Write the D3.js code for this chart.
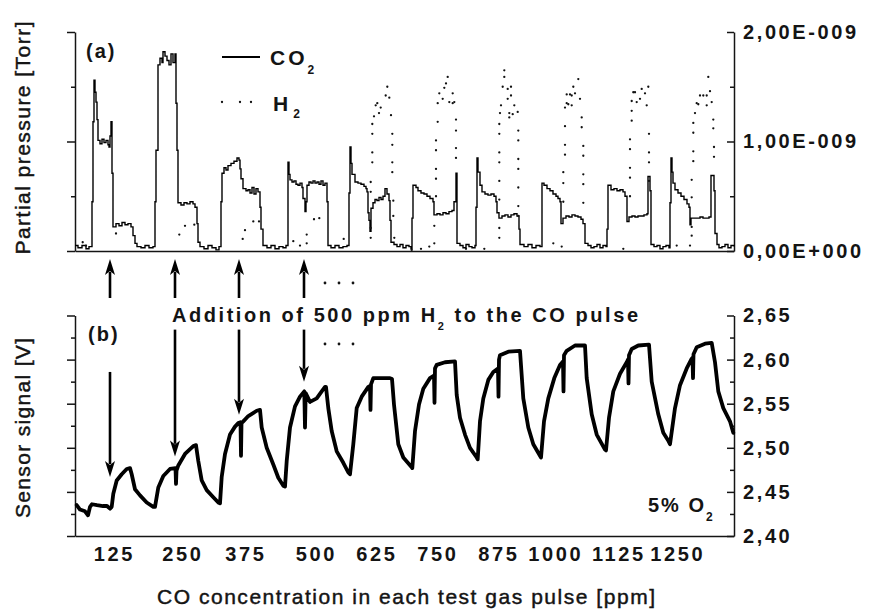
<!DOCTYPE html>
<html>
<head>
<meta charset="utf-8">
<script src="https://cdn.jsdelivr.net/npm/d3@7"></script>
<style>
  body { margin: 0; background: #fff; }
  svg text { font-family: "Liberation Sans", Arial, sans-serif; fill: #141414; }
</style>
</head>
<body>
<svg id="chart" width="878" height="610"></svg>
<script>
// ---- time axis (minutes into the run) and pulse labels ----
const timeDomain = [0, 659];
const pulseCenters = [37.5, 106, 169, 239.5, 300, 361, 422, 479, 542, 601];
const pulseLabels = ["125", "250", "375", "500", "625", "750", "875", "1000", "1125", "1250"];

// ---- (a) partial pressures, in units of 1E-9 Torr ----
const pressureTicks = [0, 1, 2];
const pressureMinorTicks = [0.5, 1.5];
const pressureLabels = ["0,00E+000", "1,00E-009", "2,00E-009"];

const co2Series = [
  [0,0.05],[3,0.03],[7,0.05],[11,0.02],[14,0.04],
  [17,0.45],[18,1.18],[19,1.56],[20,1.45],[21,1.36],[22,1.20],[23,1.01],[25,0.98],[27,1.02],[29,0.99],[31,1.01],[33,0.97],[34,0.95],[35,1.05],[36,1.18],[37,0.71],[38,0.22],[41,0.25],[44,0.23],[47,0.26],[50,0.24],[53,0.25],[56,0.22],[58,0.14],[60,0.07],[62,0.04],[66,0.03],[70,0.05],[74,0.03],[78,0.04],
  [80,0.45],[81,0.92],[83,1.70],[85,1.76],[87,1.72],[88,1.82],[90,1.78],[92,1.74],[94,1.70],[96,1.80],[98,1.72],[100,1.80],[101,1.35],[102,0.92],[103,0.44],[106,0.42],[109,0.44],[112,0.43],[115,0.45],[118,0.43],[120,0.40],[122,0.25],[123,0.08],[125,0.04],[129,0.02],[133,0.05],[137,0.03],[141,0.01],[144,0.04],
  [146,0.45],[147,0.71],[149,0.76],[151,0.74],[153,0.78],[156,0.80],[159,0.82],[162,0.85],[164,0.83],[165,0.75],[166,0.66],[168,0.57],[171,0.55],[173,0.56],[175,0.53],[177,0.58],[179,0.52],[181,0.57],[183,0.54],[185,0.40],[186,0.20],[188,0.05],[192,0.03],[196,0.05],[200,0.02],[204,0.04],[208,0.03],[211,0.05],
  [213,0.81],[214,0.70],[215,0.65],[217,0.63],[219,0.64],[221,0.61],[223,0.60],[225,0.62],[227,0.58],[228,0.48],[230,0.36],[231,0.45],[232,0.60],[234,0.63],[236,0.62],[238,0.64],[240,0.62],[242,0.63],[244,0.61],[246,0.64],[248,0.60],[250,0.62],[252,0.45],[253,0.05],[256,0.03],[260,0.05],[264,0.03],[268,0.04],[272,0.05],
  [274,0.53],[275,0.95],[276,0.80],[277,0.70],[280,0.63],[283,0.62],[286,0.61],[289,0.59],[291,0.57],[292,0.54],[293,0.35],[294,0.28],[295,0.18],[296,0.39],[298,0.44],[300,0.47],[302,0.46],[304,0.49],[306,0.47],[308,0.50],[310,0.57],[312,0.52],[314,0.46],[315,0.28],[316,0.08],[319,0.06],[322,0.04],[325,0.06],[328,0.03],[331,0.05],[334,0.04],[336,0.02],
  [337,0.30],[338,0.60],[341,0.58],[343,0.55],[346,0.53],[349,0.52],[352,0.50],[355,0.48],[358,0.45],[359,0.33],[362,0.34],[365,0.33],[368,0.35],[371,0.34],[374,0.36],[377,0.37],[379,0.45],[381,0.71],[382,0.07],[385,0.05],[388,0.03],[391,0.06],[394,0.04],[397,0.03],[400,0.05],
  [401,0.40],[402,0.85],[403,0.72],[405,0.60],[407,0.54],[410,0.52],[413,0.51],[416,0.52],[419,0.50],[421,0.45],[422,0.35],[424,0.30],[427,0.32],[430,0.33],[433,0.31],[436,0.33],[439,0.34],[442,0.32],[444,0.20],[445,0.06],[449,0.04],[453,0.06],[457,0.03],[461,0.05],[465,0.04],
  [467,0.62],[469,0.60],[472,0.57],[475,0.55],[478,0.52],[481,0.50],[483,0.48],[485,0.45],[486,0.25],[488,0.30],[491,0.32],[494,0.31],[497,0.33],[500,0.32],[503,0.31],[506,0.29],[508,0.25],[510,0.07],[513,0.05],[516,0.03],[519,0.04],[522,0.06],[525,0.03],[528,0.05],[531,0.04],
  [532,0.20],[533,0.60],[536,0.56],[539,0.57],[542,0.55],[545,0.56],[548,0.54],[550,0.50],[552,0.27],[554,0.31],[557,0.32],[560,0.31],[563,0.32],[566,0.32],[569,0.33],[572,0.34],[573,0.68],[575,0.55],[576,0.06],[579,0.04],[582,0.05],[585,0.02],[588,0.04],[591,0.05],[594,0.03],
  [595,0.44],[596,0.85],[597,0.72],[598,0.62],[600,0.56],[603,0.53],[606,0.50],[609,0.47],[612,0.43],[614,0.40],[615,0.24],[616,0.30],[619,0.30],[622,0.30],[625,0.31],[628,0.30],[631,0.30],[634,0.31],[636,0.69],[639,0.55],[640,0.16],[642,0.06],[644,0.03],[647,0.04],[650,0.06],[653,0.03],[656,0.05],[659,0.04]
];

const h2Series = [
  [7.7,0.08],[11,0.05],[41,0.16],[104.3,0.15],[110,0.23],[119.3,0.24],[167.7,0.11],[170,0.19],[178.3,0.27],[184,0.27],
  [218.3,0.09],[225,0.05],[231.7,0.15],[231.7,0.07],[239,0.29],[244.3,0.30],[268.7,0.11],
  [295.7,0.12],[295.7,0.21],[295.7,0.54],[295.7,0.63],[297.3,0.81],[297.3,0.90],[297.3,1.07],[297.3,1.16],[299,1.23],[300.7,1.33],[302.3,1.35],[304,1.26],[305.7,1.31],[310.7,1.42],[312.3,1.50],[314.3,1.40],[316,1.24],[317.3,1.07],[317.3,0.97],[317.3,0.81],[317.3,0.72],[318.3,0.46],[318.3,0.32],[319.3,0.12],
  [336.7,0.01],[346,0.02],[354.3,0.04],[359.3,0.07],
  [359.3,0.23],[361,0.50],[361,0.66],[361,0.75],[361,0.92],[361,1.01],[362.7,1.18],[362.7,1.35],[364.3,1.44],[367.7,1.39],[369.3,1.49],[371,1.53],[372.7,1.59],[374.3,1.36],[377.7,1.44],[377.7,1.35],[379.3,1.36],[381,1.20],[381,1.10],[381,0.94],[381,0.85],
  [391,0.02],[409.3,0.02],
  [424.3,0.12],[424.3,0.21],[424.3,0.47],[424.3,0.64],[424.3,0.81],[424.3,0.90],[424.3,1.07],[424.3,1.16],[425,1.26],[426,1.33],[427.7,1.50],[429.3,1.59],[429.3,1.65],[432.7,1.48],[432.7,1.39],[434.3,1.26],[434.3,1.22],[436,1.50],[436,1.42],[437.7,1.25],[439.3,1.33],[442.7,1.27],[443.3,1.10],[443.3,1.01],[443.3,0.84],[443.3,0.75],[443.3,0.58],[443.3,0.41],[443.3,0.32],
  [478.3,0.07],[486.7,0.04],
  [488.3,0.45],[488.3,0.62],[488.3,0.72],[490,0.88],[490,0.97],[490,1.14],[490,1.31],[491.7,1.43],[491.7,1.35],[493.3,1.34],[495,1.43],[496.7,1.42],[496.7,1.33],[498.3,1.50],[500,1.44],[503.3,1.57],[505,1.39],[506.7,1.22],[506.7,1.13],[508.3,0.96],[508.3,0.87],[508.3,0.70],[508.3,0.61],[508.3,0.44],
  [548.3,0.02],
  [555,0.50],[555,0.67],[555,0.76],[555,0.93],[555,1.02],[556.7,1.19],[556.7,1.28],[556.7,1.37],[558.3,1.45],[560,1.45],[561.7,1.36],[565,1.39],[566.7,1.48],[570,1.44],[571.7,1.33],[573.3,1.50],[574,1.07],[574,0.90],[574,0.81],[574,0.64],
  [601.7,0.05],[615,0.05],
  [616.7,0.14],[616.7,0.22],[616.7,0.49],[616.7,0.65],[618.3,0.82],[618.3,0.91],[618.3,1.08],[618.3,1.17],[620,1.26],[621.7,1.35],[623.3,1.34],[625,1.42],[628.3,1.42],[631.7,1.42],[631.7,1.33],[633.3,1.59],[635,1.46],[636.7,1.36],[638.3,1.20],[638.3,1.12],[639,0.95],[639,0.86]
];

// ---- (b) sensor signal, volts ----
const voltageTicks = [2.40, 2.45, 2.50, 2.55, 2.60, 2.65];
const voltageMinorTicks = [2.425, 2.475, 2.525, 2.575, 2.625];
const voltageLabels = ["2,40", "2,45", "2,50", "2,55", "2,60", "2,65"];

const sensorSeries = [
  [1.7,2.435],[5,2.430],[10,2.428],[13,2.4235],[15,2.433],[17,2.436],[22,2.435],[28,2.434],[32,2.434],[35,2.431],
  [36.7,2.433],[38.3,2.448],[41.7,2.463],[46.7,2.470],[51.7,2.476],[55,2.477],[56.7,2.470],[60,2.453],[65,2.446],[71.7,2.438],[78.3,2.433],[80,2.433],
  [83.3,2.455],[88.3,2.468],[95,2.476],[100.5,2.477],[101,2.459],[101.5,2.474],[103.3,2.480],[110,2.493],[118.3,2.502],[121,2.503],[123.3,2.485],[126.7,2.463],[131.7,2.452],[138.3,2.444],[143.3,2.438],[145,2.437],
  [146.7,2.467],[150,2.493],[155,2.515],[160,2.524],[163.3,2.528],[165.5,2.529],[166,2.491],[166.5,2.528],[168.3,2.530],[173.3,2.536],[181.7,2.542],[185,2.543],[186.7,2.523],[191.7,2.500],[198.3,2.481],[203.3,2.466],[208.3,2.457],[210,2.456],
  [211.7,2.485],[215,2.523],[220,2.547],[225,2.558],[229.3,2.564],[230,2.523],[230.7,2.562],[235,2.552],[241.7,2.556],[246.7,2.564],[250,2.569],[251,2.569],[253.3,2.545],[256.7,2.519],[261.7,2.496],[268.3,2.483],[273.3,2.472],[275,2.470],
  [278.3,2.504],[281.7,2.545],[286.7,2.558],[293.3,2.569],[295,2.570],[295.5,2.543],[296,2.572],[298.3,2.579],[315,2.579],[317,2.578],[319,2.549],[323.3,2.504],[328.3,2.489],[336.7,2.478],[337.3,2.477],
  [340,2.519],[344,2.549],[348.3,2.567],[355,2.579],[359,2.582],[359.5,2.551],[360,2.590],[361.7,2.594],[370,2.597],[380,2.598],[381.7,2.560],[385,2.534],[390,2.515],[395,2.500],[401.7,2.489],[402.7,2.487],
  [405,2.530],[408.3,2.556],[413.3,2.577],[418.3,2.586],[423,2.590],[423.5,2.558],[424,2.600],[425,2.605],[433.3,2.609],[445,2.610],[448.3,2.556],[453.3,2.523],[458.3,2.504],[466,2.489],
  [469,2.530],[473.3,2.556],[479.3,2.579],[485,2.594],[488,2.598],[488.5,2.564],[489,2.605],[491.7,2.610],[500,2.616],[510,2.616],[511.7,2.579],[516.7,2.538],[521.7,2.515],[530,2.498],[531,2.497],
  [534,2.534],[538.3,2.564],[545,2.584],[551.7,2.597],[553,2.600],[553.5,2.573],[554,2.605],[556.7,2.612],[563.3,2.616],[574,2.617],[576.7,2.575],[583.3,2.538],[588.3,2.517],[593.3,2.508],[595,2.504],
  [600,2.545],[605,2.571],[611.7,2.590],[616.7,2.601],[617.5,2.602],[618,2.579],[618.5,2.606],[621.7,2.614],[630,2.618],[636.7,2.619],[640,2.597],[643.3,2.564],[648.3,2.545],[655,2.530],[658.3,2.517]
];

// ---- H2 addition markers: time of addition and arrow span on the sensor trace ----
const h2AddTimes = [35, 100, 164, 229];
const arrowTipV = [2.467, 2.490, 2.5375, 2.575];
const arrowTopV = [2.586, 2.634, 2.634, 2.634];

// ---------------------------------------------------------------
const svg = d3.select("#chart");
const ink = "#141414";

const x = d3.scaleLinear().domain(timeDomain).range([75, 734]);
const yP = d3.scaleLinear().domain([0, 2]).range([251, 32]);
const yV = d3.scaleLinear().domain([2.40, 2.65]).range([536, 315.5]);

function styleAxis(g, width) {
  g.attr("color", ink);
  g.selectAll("path, line").attr("stroke-width", width);
  return g;
}
function tickFont(g) {
  g.attr("font-family", '"Liberation Sans", Arial, sans-serif')
   .attr("font-size", 20).attr("font-weight", "bold");
  g.selectAll("text").attr("letter-spacing", 2.6).attr("fill", ink);
}

// ---- panel (a) axes ----
svg.append("g").attr("transform", "translate(75,0)")
  .call(d3.axisLeft(yP).tickValues(pressureTicks).tickSize(8).tickSizeOuter(0).tickFormat(""))
  .call(styleAxis, 1.5);
svg.append("g").attr("transform", "translate(75,0)")
  .call(d3.axisLeft(yP).tickValues(pressureMinorTicks).tickSize(4).tickFormat(""))
  .call(g => g.select(".domain").remove()).call(styleAxis, 1.5);
svg.append("g").attr("transform", "translate(734,0)")
  .call(d3.axisRight(yP).tickValues(pressureTicks).tickSizeInner(-7).tickSizeOuter(0).tickPadding(9)
    .tickFormat((d, i) => pressureLabels[i]))
  .call(styleAxis, 1.5).call(tickFont);
svg.append("g").attr("transform", "translate(734,0)")
  .call(d3.axisRight(yP).tickValues(pressureMinorTicks).tickSizeInner(-4).tickFormat(""))
  .call(g => g.select(".domain").remove()).call(styleAxis, 1.5);
svg.append("g").attr("transform", "translate(0,251)")
  .call(d3.axisBottom(x).tickValues([]).tickSizeOuter(0))
  .call(styleAxis, 1.5);

// ---- panel (a) data ----
const co2Line = d3.line().x(d => x(d[0])).y(d => yP(d[1])).curve(d3.curveStepAfter);
svg.append("path").datum(co2Series).attr("d", co2Line)
  .attr("fill", "none").attr("stroke", "#000").attr("stroke-width", 1.4);

svg.append("g").selectAll("circle").data(h2Series).join("circle")
  .attr("cx", d => x(d[0])).attr("cy", d => yP(d[1])).attr("r", 1.15).attr("fill", "#111");

// ---- panel (b) axes ----
svg.append("g").attr("transform", "translate(75,0)")
  .call(d3.axisLeft(yV).tickValues(voltageTicks).tickSize(8).tickSizeOuter(0).tickFormat(""))
  .call(styleAxis, 1.5);
svg.append("g").attr("transform", "translate(75,0)")
  .call(d3.axisLeft(yV).tickValues(voltageMinorTicks).tickSize(4).tickFormat(""))
  .call(g => g.select(".domain").remove()).call(styleAxis, 1.5);
svg.append("g").attr("transform", "translate(734,0)")
  .call(d3.axisRight(yV).tickValues(voltageTicks).tickSizeInner(-7).tickSizeOuter(0).tickPadding(9)
    .tickFormat((d, i) => voltageLabels[i]))
  .call(styleAxis, 1.5).call(tickFont);
svg.append("g").attr("transform", "translate(734,0)")
  .call(d3.axisRight(yV).tickValues(voltageMinorTicks).tickSizeInner(-4).tickFormat(""))
  .call(g => g.select(".domain").remove()).call(styleAxis, 1.5);
svg.append("g").attr("transform", "translate(0,536)")
  .call(d3.axisBottom(x).tickValues(pulseCenters).tickSize(0).tickSizeOuter(0).tickPadding(11)
    .tickFormat((d, i) => pulseLabels[i]))
  .call(styleAxis, 1.5).call(tickFont)
  .call(g => g.selectAll(".tick text").attr("dx", 1.3));

// ---- panel (b) data ----
const sensorLine = d3.line().x(d => x(d[0])).y(d => yV(d[1]));
svg.append("path").datum(sensorSeries).attr("d", sensorLine)
  .attr("fill", "none").attr("stroke", "#000").attr("stroke-width", 3.8)
  .attr("stroke-linejoin", "round").attr("stroke-linecap", "round");

// ---- H2 addition arrows ----
function arrow(g, xa, yFrom, yTip) {
  const dir = yTip > yFrom ? 1 : -1;
  const headLen = 16, halfW = 5;
  g.append("line").attr("x1", xa).attr("x2", xa).attr("y1", yFrom).attr("y2", yTip - dir * headLen * 0.8)
    .attr("stroke", "#000").attr("stroke-width", 2.6);
  g.append("path")
    .attr("d", `M${xa},${yTip} L${xa - halfW},${yTip - dir * headLen} L${xa},${yTip - dir * headLen * 0.75} L${xa + halfW},${yTip - dir * headLen} Z`)
    .attr("fill", "#000");
}
const arrows = svg.append("g");
h2AddTimes.forEach((t, i) => {
  arrow(arrows, x(t), 298, 259);
  arrow(arrows, x(t), yV(arrowTopV[i]), yV(arrowTipV[i]));
});
// ellipsis after the last arrow in each row
const lastX = x(h2AddTimes[h2AddTimes.length - 1]);
[283, 344].forEach(yy => {
  [21, 35, 49].forEach(dx => {
    arrows.append("circle").attr("cx", lastX + dx).attr("cy", yy).attr("r", 1.4).attr("fill", ink);
  });
});

// ---- text ----
function label(x0, y0, parts, o) {
  const t = svg.append("text").attr("x", x0).attr("y", y0)
    .attr("font-size", o.size).attr("font-weight", o.weight || "bold")
    .attr("letter-spacing", o.ls || 0);
  if (o.anchor) t.attr("text-anchor", o.anchor);
  if (o.length) t.attr("textLength", o.length).attr("lengthAdjust", "spacing");
  if (o.rotate) t.attr("transform", `rotate(-90 ${x0} ${y0})`);
  if (o.stroke) t.attr("stroke", ink).attr("stroke-width", o.stroke);
  let wasSub = false;
  parts.forEach(p => {
    const s = t.append("tspan").text(p.sub || p.text);
    if (p.sub) { s.attr("font-size", o.subSize || 12).attr("dy", o.subDy || 8); wasSub = true; }
    else if (wasSub) { s.attr("dy", -(o.subDy || 8)); wasSub = false; }
  });
  return t;
}

label(30, 138, [{ text: "Partial pressure [Torr]" }], { size: 21, weight: "normal", anchor: "middle", length: 233, rotate: true, stroke: 0.45 });
label(30, 428, [{ text: "Sensor signal [V]" }], { size: 21, weight: "normal", anchor: "middle", length: 180, rotate: true, stroke: 0.45 });
label(406, 604, [{ text: "CO concentration in each test gas pulse [ppm]" }], { size: 21, weight: "normal", anchor: "middle", length: 498, stroke: 0.45 });

label(86, 58, [{ text: "(a)" }], { size: 20, ls: 2 });
label(88, 341, [{ text: "(b)" }], { size: 20, ls: 2 });

// legend
svg.append("line").attr("x1", 222).attr("x2", 260).attr("y1", 57).attr("y2", 57)
  .attr("stroke", "#000").attr("stroke-width", 2);
[222, 240, 251].forEach(cx => svg.append("circle").attr("cx", cx).attr("cy", 102).attr("r", 1.15).attr("fill", "#111"));
label(270, 65, [{ text: "CO" }, { sub: "2" }], { size: 21, ls: 3, subSize: 12, subDy: 9 });
label(273, 111, [{ text: "H" }, { sub: "2" }], { size: 21, ls: 5, subSize: 12, subDy: 7 });

label(172, 322, [{ text: "Addition of 500 ppm H" }, { sub: "2" }, { text: " to the CO pulse" }],
  { size: 20, length: 466, subSize: 11, subDy: 8 });
label(648, 512, [{ text: "5%  O" }, { sub: "2" }], { size: 20, ls: 2, subSize: 12, subDy: 9 });
</script>
</body>
</html>
